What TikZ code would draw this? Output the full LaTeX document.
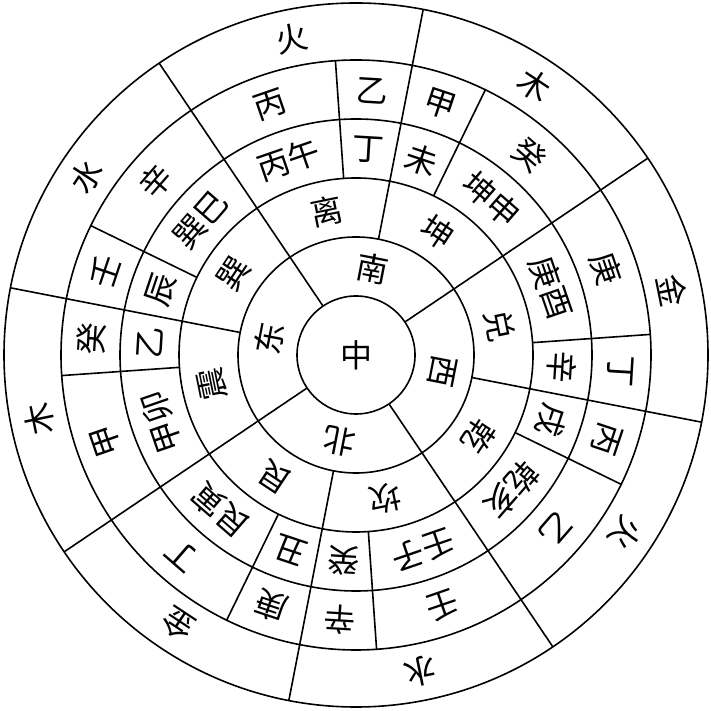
\documentclass[tikz,border=0pt]{standalone}
\usepackage{fontspec}
\newfontfamily\cjk{Noto Sans CJK SC}
\begin{document}
\begin{tikzpicture}[x=1pt,y=1pt,
  ringline/.style={line width=1.6pt},
  spoke/.style={line width=1.6pt},
  lbl/.style={font=\cjk\fontsize{32}{32}\selectfont, inner sep=0pt}]
\useasboundingbox (0,0) rectangle (711,711);
\fill[white] (0,0) rectangle (711,711);
\begin{scope}[shift={(356,356)}]
  % concentric circles
  \foreach \r in {59,118,177,236,295,352}
    \draw[ringline] (0,0) circle[radius=\r];
  % spokes
  \foreach \a in {34,124,214,304}
    \draw[spoke] (\a:59) -- (\a:352);
  \foreach \a in {79,169,259,349}
    \draw[spoke] (\a:118) -- (\a:352);
  \foreach \a in {4,64,94,154,184,244,274,334}
    \draw[spoke] (\a:177) -- (\a:295);
  % centre
  \node[lbl] (zhong) at (0,0) {中};
  % ring 1
  \foreach \a/\t [count=\i] in {79/南,-11/西,-101/北,169/东}
    \node[lbl, rotate=\a-90] (ra\i) at (\a:88) {\t};
  % ring 2
  \foreach \a/\t [count=\i] in {101.5/离,56.5/坤,11.5/兑,-33.5/乾,-78.5/坎,-123.5/艮,-168.5/震,146.5/巽}
    \node[lbl, rotate=\a-90] (rb\i) at (\a:147) {\t};
  % ring 3, single characters
  \foreach \a/\t [count=\i] in {86.5/丁,71.5/未,-3.5/辛,-18.5/戌,-93.5/癸,-108.5/丑,176.5/乙,161.5/辰}
    \node[lbl, rotate=\a-90] (rc\i) at (\a:206) {\t};
  % ring 3, pairs of characters set along a straight line
  \foreach \a/\s/\t [count=\i] in {109/丙/午,49/坤/申,19/庚/酉,-41/乾/亥,-71/壬/子,-131/艮/寅,-161/甲/卯,139/巽/巳}
  {
    \node[lbl, rotate=\a-90] (rp\i a) at (\a+4.4:206.6) {\s};
    \node[lbl, rotate=\a-90] (rp\i b) at (\a-4.4:206.6) {\t};
  }
  % ring 4
  \foreach \a/\t [count=\i] in {109/丙,86.5/乙,71.5/甲,49/癸,19/庚,-3.5/丁,-18.5/丙,-41/乙,-71/壬,-93.5/辛,-108.5/庚,-131/丁,-161/甲,176.5/癸,161.5/壬,139/辛}
    \node[lbl, rotate=\a-90] (rd\i) at (\a:265) {\t};
  % ring 5
  \foreach \a/\t [count=\i] in {101.5/火,56.5/木,11.5/金,-33.5/火,-78.5/水,-123.5/金,-168.5/木,146.5/水}
    \node[lbl, rotate=\a-90] (re\i) at (\a:323) {\t};
\end{scope}
\end{tikzpicture}
\end{document}
